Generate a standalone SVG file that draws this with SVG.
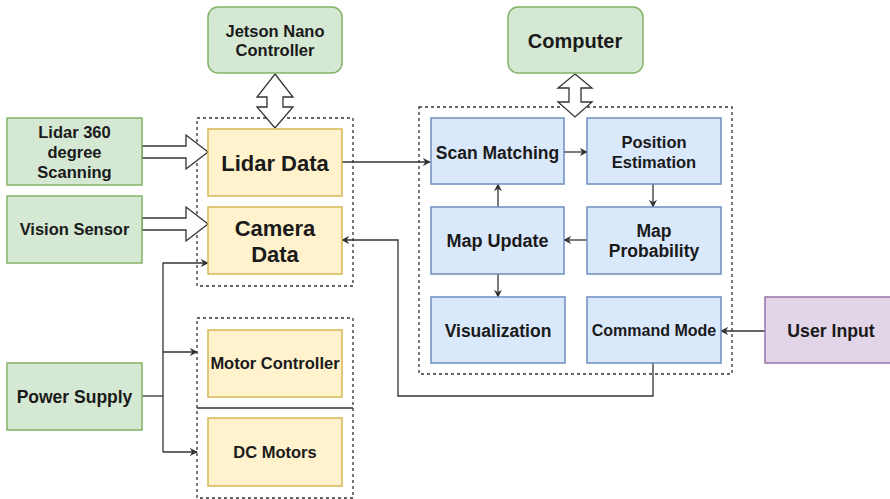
<svg xmlns="http://www.w3.org/2000/svg" width="890" height="499" viewBox="0 0 890 499">
<defs>
<style>
text{font-family:"Liberation Sans",Arial,sans-serif;font-weight:bold;fill:#1a1a1a;text-anchor:middle;dominant-baseline:central}
.g{fill:#d5e8d4;stroke:#82b366;stroke-width:1.5}
.y{fill:#fff2cc;stroke:#d6b656;stroke-width:1.5}
.b{fill:#dae8fc;stroke:#6c8ebf;stroke-width:1.5}
.p{fill:#e1d5e7;stroke:#9673a6;stroke-width:1.5}
.d{fill:none;stroke:#333;stroke-width:1.3;stroke-dasharray:3 3}
.c{fill:none;stroke:#333;stroke-width:1.3;marker-end:url(#ah)}
.l{fill:none;stroke:#333;stroke-width:1.3}
.ba{fill:#fff;stroke:#333;stroke-width:1.3;stroke-linejoin:miter}
</style>
<marker id="ah" viewBox="0 0 10 10" refX="9" refY="5" markerWidth="8" markerHeight="8" markerUnits="userSpaceOnUse" orient="auto">
<path d="M0,0 L10,5 L0,10 L3,5 Z" fill="#333"/>
</marker>
</defs>
<rect width="890" height="499" fill="#fff"/>

<g id="groups">
<rect class="d" x="197" y="118" width="156" height="168"/>
<rect class="d" x="419" y="107" width="313" height="267"/>
<rect class="d" x="197" y="318" width="156" height="90"/>
<rect class="d" x="197" y="408" width="156" height="90"/>
</g>

<g id="connectors">
<polygon class="ba" points="275,74 293,97 283,97 283,107 293,107 275,128 257,107 267,107 267,97 257,97"/>
<polygon class="ba" points="575,74 592,88 581,88 581,102 592,102 575,117 558,102 569,102 569,88 558,88"/>
<polygon class="ba" points="142,146 186,146 186,135 208,152 186,169 186,158 142,158"/>
<polygon class="ba" points="142,218 186,218 186,207 208,224 186,241 186,230 142,230"/>
<path class="c" d="M342,162 H430"/>
<path class="c" d="M564,152 H587"/>
<path class="c" d="M653,184 V207"/>
<path class="c" d="M587,240 H564"/>
<path class="c" d="M498,207 V184"/>
<path class="c" d="M498,274 V297"/>
<path class="c" d="M765,331 H721"/>
<path class="c" d="M653,363 V396 H398 V240 H342"/>
<path class="l" d="M142,396 H163"/>
<path class="c" d="M163,452 V263 H208"/>
<path class="c" d="M163,352 H197"/>
<path class="c" d="M163,452 H197"/>
</g>

<g id="jetson"><rect class="g" x="208" y="7" width="134" height="66" rx="10"/><text x="275" y="31" font-size="16.5">Jetson Nano</text><text x="275" y="50" font-size="16.5">Controller</text></g>
<g id="computer"><rect class="g" x="508" y="7" width="135" height="66" rx="10"/><text x="575" y="41" font-size="20">Computer</text></g>
<g id="lidar360"><rect class="g" x="7" y="118" width="135" height="67"/><text x="74.5" y="132" font-size="16.5">Lidar 360</text><text x="74.5" y="152" font-size="16.5">degree</text><text x="74.5" y="172" font-size="16.5">Scanning</text></g>
<g id="vision"><rect class="g" x="7" y="196" width="135" height="67"/><text x="74.5" y="229" font-size="16.5">Vision Sensor</text></g>
<g id="power"><rect class="g" x="7" y="363" width="135" height="67"/><text x="74.5" y="397" font-size="17.5">Power Supply</text></g>
<g id="lidardata"><rect class="y" x="208" y="129" width="134" height="67"/><text x="275" y="163" font-size="22">Lidar Data</text></g>
<g id="cameradata"><rect class="y" x="208" y="207" width="134" height="67"/><text x="275" y="228" font-size="22">Camera</text><text x="275" y="254" font-size="22">Data</text></g>
<g id="motorctrl"><rect class="y" x="208" y="330" width="134" height="67"/><text x="275" y="363" font-size="16.5">Motor Controller</text></g>
<g id="dcmotors"><rect class="y" x="208" y="418" width="134" height="68"/><text x="275" y="452" font-size="16.5">DC Motors</text></g>
<g id="scan"><rect class="b" x="431" y="118" width="133" height="66"/><text x="497.5" y="153" font-size="17.5">Scan Matching</text></g>
<g id="position"><rect class="b" x="587" y="118" width="134" height="66"/><text x="654" y="142" font-size="16.5">Position</text><text x="654" y="162" font-size="16.5">Estimation</text></g>
<g id="mapupdate"><rect class="b" x="431" y="207" width="133" height="67"/><text x="497.5" y="241" font-size="18">Map Update</text></g>
<g id="mapprob"><rect class="b" x="587" y="207" width="134" height="67"/><text x="654" y="231" font-size="17.5">Map</text><text x="654" y="251" font-size="17.5">Probability</text></g>
<g id="visual"><rect class="b" x="431" y="297" width="134" height="66"/><text x="498" y="331" font-size="17.5">Visualization</text></g>
<g id="command"><rect class="b" x="587" y="297" width="134" height="66"/><text x="654" y="330" font-size="16">Command Mode</text></g>
<g id="userinput"><rect class="p" x="765" y="297" width="130" height="66"/><text x="831" y="331" font-size="17.7">User Input</text></g>
</svg>
